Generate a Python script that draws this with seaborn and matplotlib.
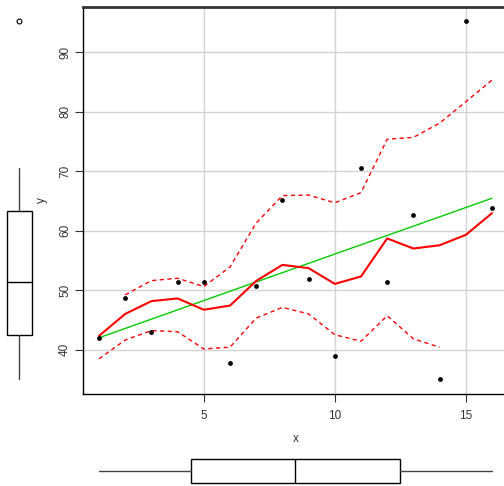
import numpy as np
import pandas as pd
import matplotlib
matplotlib.use("Agg")
import matplotlib.pyplot as plt
import seaborn as sns
from matplotlib import cbook

# ---- data ----
x = [1, 2, 3, 4, 5, 6, 7, 8, 9, 10, 11, 12, 13, 14, 15, 16]
y = [42.0, 48.6, 43.0, 51.45, 51.3, 37.8, 50.7, 65.1, 51.8, 39.0, 70.6, 51.45, 62.7, 35.0, 95.3, 63.8]
smooth_y = [42.3, 46.0, 48.15, 48.6, 46.7, 47.4, 51.55, 54.25, 53.7, 51.05, 52.3, 58.7, 57.0, 57.55, 59.3, 62.95]
upper_x = [2, 3, 4, 5, 6, 7, 8, 9, 10, 11, 12, 13, 14, 15, 16]
upper_y = [49.2, 51.6, 52.0, 50.6, 53.9, 61.3, 65.9, 66.0, 64.7, 66.4, 75.4, 75.7, 78.1, 81.7, 85.35]
lower_x = [1, 2, 3, 4, 5, 6, 7, 8, 9, 10, 11, 12, 13, 14]
lower_y = [38.45, 41.6, 43.2, 43.0, 40.1, 40.4, 45.3, 47.1, 46.0, 42.5, 41.4, 45.7, 41.8, 40.4]
xticks = [5, 10, 15]
yticks = [40, 50, 60, 70, 80, 90]

df = pd.DataFrame({"x": x, "y": y})

sns.set_style("white")
plt.rcParams["font.family"] = ["Liberation Sans", "DejaVu Sans"]

W, H = 504, 486
fig = plt.figure(figsize=(W / 100, H / 100), dpi=100)

def box_axes(px_left, px_top, px_right, px_bottom):
    return fig.add_axes([px_left / W, 1 - px_bottom / H, (px_right - px_left) / W, (px_bottom - px_top) / H])

ax = box_axes(83.3, 6.6, 507.7, 393.6)

xlim = (0.4, 16.6)
ylim = (32.59, 97.71)

# grid
for t in xticks:
    ax.axvline(t, color="#d3d3d3", lw=1, zorder=0)
for t in yticks:
    ax.axhline(t, color="#d3d3d3", lw=1, zorder=0)

sns.regplot(data=df, x="x", y="y", scatter=False, ci=None, ax=ax,
            line_kws=dict(color="#00cd00", lw=1.0, zorder=2))
sns.lineplot(x=lower_x, y=lower_y, ax=ax, color="#ff0000", lw=1.0,
             dashes=False, linestyle=(0, (3, 2.5)), zorder=3)
sns.lineplot(x=upper_x, y=upper_y, ax=ax, color="#ff0000", lw=1.0,
             dashes=False, linestyle=(0, (3, 2.5)), zorder=3)
sns.lineplot(x=x, y=smooth_y, ax=ax, color="#ff0000", lw=1.5, zorder=4)
sns.scatterplot(data=df, x="x", y="y", ax=ax, color="black", s=12,
                edgecolor="black", linewidth=0, zorder=5)

ax.set_xlim(*xlim)
ax.set_ylim(*ylim)
ax.set_xticks(xticks)
ax.set_yticks(yticks)
ax.tick_params(axis="both", direction="out", length=6, width=0.8, labelsize=8.5,
               color="#333333", labelcolor="#333333", left=True, bottom=True)
for lab in ax.get_yticklabels():
    lab.set_rotation(90)
    lab.set_va("center")
ax.tick_params(axis="x", pad=6)
ax.tick_params(axis="y", pad=2.8)
ax.set_xlabel("x", fontsize=8.5, color="#333333", labelpad=8)
ax.set_ylabel("y", fontsize=8.5, color="#333333", labelpad=8)
for side in ["left", "bottom"]:
    ax.spines[side].set_color("black")
    ax.spines[side].set_linewidth(1.0)
ax.spines["top"].set_color("#333333")
ax.spines["top"].set_linewidth(2.0)
ax.spines["right"].set_visible(False)

# ---- marginal boxplots (Tukey hinges, as in R) ----
def tukey_stats(vals):
    v = np.sort(np.asarray(vals, float))
    st = cbook.boxplot_stats(v)[0]
    n = len(v)
    half = v[: (n + 1) // 2], v[n // 2:]
    q1, q3 = np.median(half[0]), np.median(half[1])
    iqr = q3 - q1
    inside = v[(v >= q1 - 1.5 * iqr) & (v <= q3 + 1.5 * iqr)]
    st.update(q1=q1, q3=q3, med=np.median(v), whislo=inside.min(), whishi=inside.max(),
              fliers=v[(v < q1 - 1.5 * iqr) | (v > q3 + 1.5 * iqr)])
    return st

bprops = dict(
    boxprops=dict(color="black", lw=1.0),
    medianprops=dict(color="black", lw=1.0),
    whiskerprops=dict(color="#444444", lw=1.0),
    capprops=dict(lw=0),
    flierprops=dict(marker="o", markersize=3.5, markerfacecolor="none",
                    markeredgecolor="black", markeredgewidth=0.8),
    patch_artist=True,
)

axl = box_axes(0, 6.6, 40, 393.6)
res = axl.bxp([tukey_stats(y)], positions=[19], widths=[25], vert=True, **bprops)
for p in res["boxes"]:
    p.set_facecolor("white")
axl.set_xlim(0, 40)
axl.set_ylim(*ylim)
axl.axis("off")

axb = box_axes(83.3, 449, 507.7, 493)
res = axb.bxp([tukey_stats(x)], positions=[22], widths=[24], vert=False, **bprops)
for p in res["boxes"]:
    p.set_facecolor("white")
axb.set_xlim(*xlim)
axb.set_ylim(44, 0)
axb.axis("off")

fig.savefig("out.png", dpi=100, facecolor="white")
